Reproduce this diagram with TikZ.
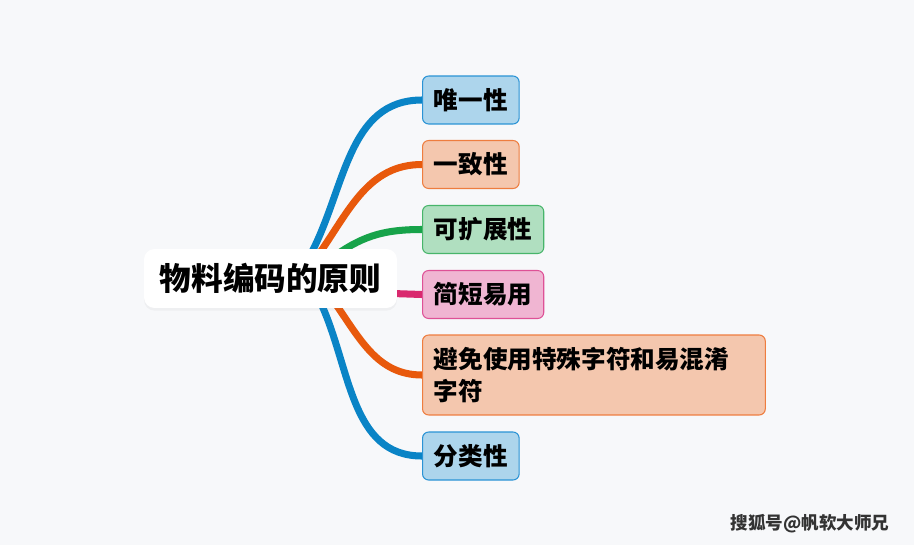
\documentclass[tikz,border=0pt]{standalone}
\usepackage{fontspec}
\setmainfont{Noto Sans CJK SC}
\usepackage{xcolor}
\usepackage{tikz}
\usetikzlibrary{backgrounds,shadows}

\definecolor{bgcol}{HTML}{F7F8FA}
\definecolor{blueFill}{HTML}{ADD5EC}
\definecolor{blueEdge}{HTML}{2A93D5}
\definecolor{orangeFill}{HTML}{F4C7AE}
\definecolor{orangeEdge}{HTML}{EE7D3F}
\definecolor{greenFill}{HTML}{B0DFC0}
\definecolor{greenEdge}{HTML}{47B56A}
\definecolor{pinkFill}{HTML}{F0B5D2}
\definecolor{pinkEdge}{HTML}{DE5196}
\definecolor{blueLine}{HTML}{0A84C6}
\definecolor{orangeLine}{HTML}{E8590C}
\definecolor{greenLine}{HTML}{17A34A}
\definecolor{pinkLine}{HTML}{D9296E}

\tikzset{
  rootbox/.style={fill=white, rounded corners=6pt, minimum width=5.06cm, minimum height=1.18cm,
    font=\fontsize{18}{22}\selectfont\bfseries,
    drop shadow={opacity=0.07, shadow xshift=0pt, shadow yshift=-1.5pt}},
  leaf/.style={draw, line width=0.6pt, rounded corners=3.5pt, anchor=west, minimum height=0.96cm,
    inner xsep=6.5pt, font=\fontsize{14}{18}\selectfont\bfseries},
  link/.style={line width=4pt},
}

\begin{document}
\begin{tikzpicture}[x=0.02cm,y=-0.02cm]
\node[rootbox] (root) at (270.5,278.5) {物料编码的原则};
\node[leaf, fill=blueFill, draw=blueEdge] (unique) at (422,100) {唯一性};
\node[leaf, fill=orangeFill, draw=orangeEdge] (consist) at (422,164.5) {一致性};
\node[leaf, fill=greenFill, draw=greenEdge] (expand) at (422,229.5) {可扩展性};
\node[leaf, fill=pinkFill, draw=pinkEdge] (simple) at (422,294.5) {简短易用};
\node[leaf, fill=orangeFill, draw=orangeEdge, minimum height=1.6cm, text width=6.4cm, align=left,
  font=\fontsize{14}{18}\selectfont\bfseries] (avoid) at (422,375) {避免使用特殊字符和易混淆\\字符};
\node[leaf, fill=blueFill, draw=blueEdge] (classify) at (422,456) {分类性};
\node[font=\fontsize{10}{12}\selectfont\bfseries, text=black!80] (mark) at (810,524) {搜狐号@帆软大师兄};

\begin{scope}[on background layer]
\fill[bgcol] (0,0) rectangle (914,545);
% branches
\draw[link, blueLine] (root.north) ++(40,6) to[out=62,in=180] (unique.west);
\draw[link, orangeLine] (root.north) ++(48,6) to[out=55,in=180] (consist.west);
\draw[link, greenLine] (root.north) ++(66,6) to[out=35,in=180] (expand.west);
\draw[link, pinkLine] (root.east) ++(-5,15) -- (simple.west);
\draw[link, orangeLine] (root.south) ++(64,-6) to[out=-55,in=180] (avoid.west);
\draw[link, blueLine] (root.south) ++(50,-6) to[out=-65,in=180] (classify.west);
\end{scope}
\end{tikzpicture}
\end{document}
